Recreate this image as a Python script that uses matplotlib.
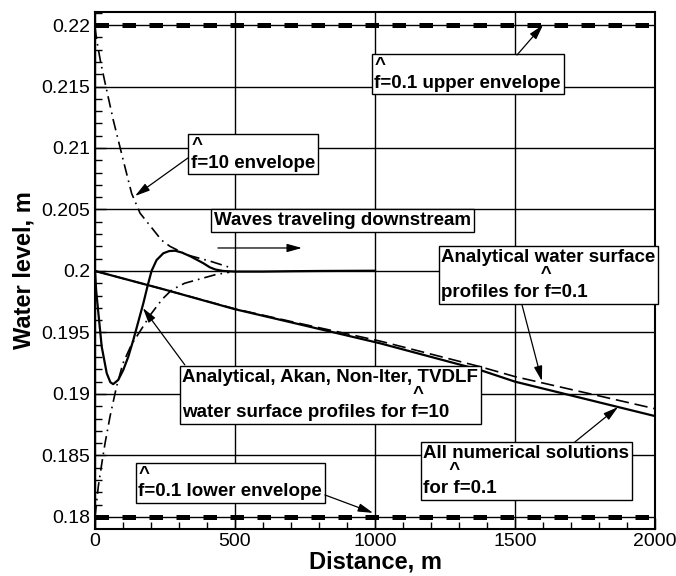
import numpy as np
import matplotlib
matplotlib.use("Agg")
import matplotlib.pyplot as plt
from matplotlib.ticker import MultipleLocator

plt.rcParams['font.family'] = ['Liberation Sans', 'DejaVu Sans']

# f=0.1 envelopes (constant)
env01_x = [0, 2000]
env01_upper = [0.22, 0.22]
env01_lower = [0.18, 0.18]

# f=10 envelopes (dash-dot)
env10_up_x = [0, 6, 20, 36, 65, 101, 131, 161, 210, 238, 268, 330, 411, 480]
env10_up_y = [0.2198, 0.2188, 0.2170, 0.2153, 0.2123, 0.2090, 0.2063, 0.2047,
              0.2033, 0.2025, 0.2020, 0.2013, 0.2008, 0.2003]
env10_lo_x = [0, 12, 24, 36, 54, 77, 100, 130, 161, 200, 240, 274, 320, 375, 430, 480]
env10_lo_y = [0.1800, 0.1825, 0.1843, 0.1860, 0.1882, 0.1906, 0.1925, 0.1940,
              0.1951, 0.1965, 0.1977, 0.19846, 0.1990, 0.19935, 0.1997, 0.1999]

# f=10 water surface profile (solid)
f10_x = [0, 4, 12, 24, 42, 55, 65, 83, 101, 119, 137, 155, 173, 188, 202, 220, 244,
         265, 286, 310, 340, 365, 387, 410, 430, 458, 500, 600, 700, 800, 900, 1000]
f10_y = [0.2, 0.19846, 0.1966, 0.19385, 0.19168, 0.19095, 0.1908, 0.19114, 0.19195,
         0.19303, 0.1944, 0.1959, 0.1974, 0.1988, 0.2, 0.20089, 0.20144, 0.20162,
         0.20165, 0.2015, 0.2012, 0.2009, 0.20063, 0.2003, 0.20012, 0.2, 0.19995,
         0.19995, 0.19998, 0.2, 0.20001, 0.20002]

# f=0.1 profiles
f01_num_x = [0, 250, 500, 714, 1018, 1375, 1500, 2000]
f01_num_y = [0.2, 0.19848, 0.19689, 0.19575, 0.19412, 0.19195, 0.1910, 0.1882]
f01_ana_x = [0, 250, 500, 714, 1018, 1375, 1500, 2000]
f01_ana_y = [0.2, 0.19848, 0.19692, 0.19582, 0.1943, 0.19222, 0.19141, 0.1888]

xticks = [0, 500, 1000, 1500, 2000]
yticks = [0.18, 0.185, 0.19, 0.195, 0.2, 0.205, 0.21, 0.215, 0.22]
ylabels = ['0.18', '0.185', '0.19', '0.195', '0.2', '0.205', '0.21', '0.215', '0.22']

fig = plt.figure(figsize=(6.76, 5.76), dpi=100)
ax = fig.add_axes([0.1405, 0.0816, 0.8285, 0.8976])

ax.set_xlim(0, 2000)
ax.set_ylim(0.17902, 0.22106)
ax.set_xticks(xticks)
ax.set_yticks(yticks)
ax.set_yticklabels(ylabels)
ax.xaxis.set_minor_locator(MultipleLocator(100))
ax.yaxis.set_minor_locator(MultipleLocator(0.001))
ax.tick_params(which='both', direction='in', labelsize=14, width=1, color='black')
ax.tick_params(which='major', length=8)
ax.tick_params(which='minor', length=5)
ax.tick_params(axis='x', pad=3)
ax.grid(True, which='major', color='black', lw=1.0)
ax.set_axisbelow(True)
for s in ax.spines.values():
    s.set_linewidth(1.5)

# thick dashed envelopes for f=0.1
ax.plot(env01_x, env01_upper, color='black', lw=3.6, ls=(0, (2.7, 2.7)), dash_capstyle='butt')
ax.plot(env01_x, env01_lower, color='black', lw=3.6, ls=(0, (2.7, 2.7)), dash_capstyle='butt')

# f=10 envelopes
ax.plot(env10_up_x, env10_up_y, color='black', lw=1.2, ls=(0, (7, 3, 1, 3)))
ax.plot(env10_lo_x, env10_lo_y, color='black', lw=1.2, ls=(0, (7, 3, 1, 3)))

# f=10 profiles
ax.plot(f10_x, f10_y, color='black', lw=1.6)

# f=0.1 profiles
ax.plot(f01_num_x, f01_num_y, color='black', lw=1.6)
ax.plot(f01_ana_x, f01_ana_y, color='black', lw=1.2, ls=(0, (8, 3.5)))

ax.set_xlabel('Distance, m', fontsize=17, fontweight='bold', labelpad=0)
ax.set_ylabel('Water level, m', fontsize=17, fontweight='bold')

box = dict(boxstyle='square,pad=0.15', fc='white', ec='black', lw=1.0)
tkw = dict(fontsize=13.5, fontweight='bold', ha='left', va='top', bbox=box, zorder=5,
           linespacing=1.05)
akw = dict(arrowstyle='-|>,head_length=0.9,head_width=0.25', color='black', lw=0.9,
           shrinkA=0, shrinkB=0)

ax.text(998, 0.21740, '^\nf=0.1 upper envelope', **tkw)
ax.annotate('', xy=(1600, 0.22), xytext=(1507, 0.21756), arrowprops=akw, zorder=6)

ax.text(344, 0.21090, '^\nf=10 envelope', **tkw)
ax.annotate('', xy=(143, 0.2061), xytext=(332, 0.20919), arrowprops=akw, zorder=6)

ax.text(426, 0.20480, 'Waves traveling downstream', **tkw)
ax.annotate('', xy=(739, 0.20187), xytext=(439, 0.20187), arrowprops=akw, zorder=6)

ax.text(1237, 0.20180, 'Analytical water surface\n' + ' ' * 19 + '^\nprofiles for f=0.1', **tkw)
ax.annotate('', xy=(1596, 0.19105), xytext=(1525, 0.19724), arrowprops=akw, zorder=6)

ax.text(312, 0.19205, 'Analytical, Akan, Non-Iter, TVDLF\n' + ' ' * 44 +
        '^\nwater surface profiles for f=10', **tkw)
ax.annotate('', xy=(171, 0.19699), xytext=(321, 0.19236), arrowprops=akw, zorder=6)

ax.text(1173, 0.18587, 'All numerical solutions\n' + ' ' * 5 + '^\nfor f=0.1', **tkw)
ax.annotate('', xy=(1868, 0.18894), xytext=(1714, 0.18610), arrowprops=akw, zorder=6)

ax.text(155, 0.18416, '^\nf=0.1 lower envelope', **tkw)
ax.annotate('', xy=(993, 0.18033), xytext=(821, 0.18179), arrowprops=akw, zorder=6)

fig.savefig('out.png', dpi=100)
